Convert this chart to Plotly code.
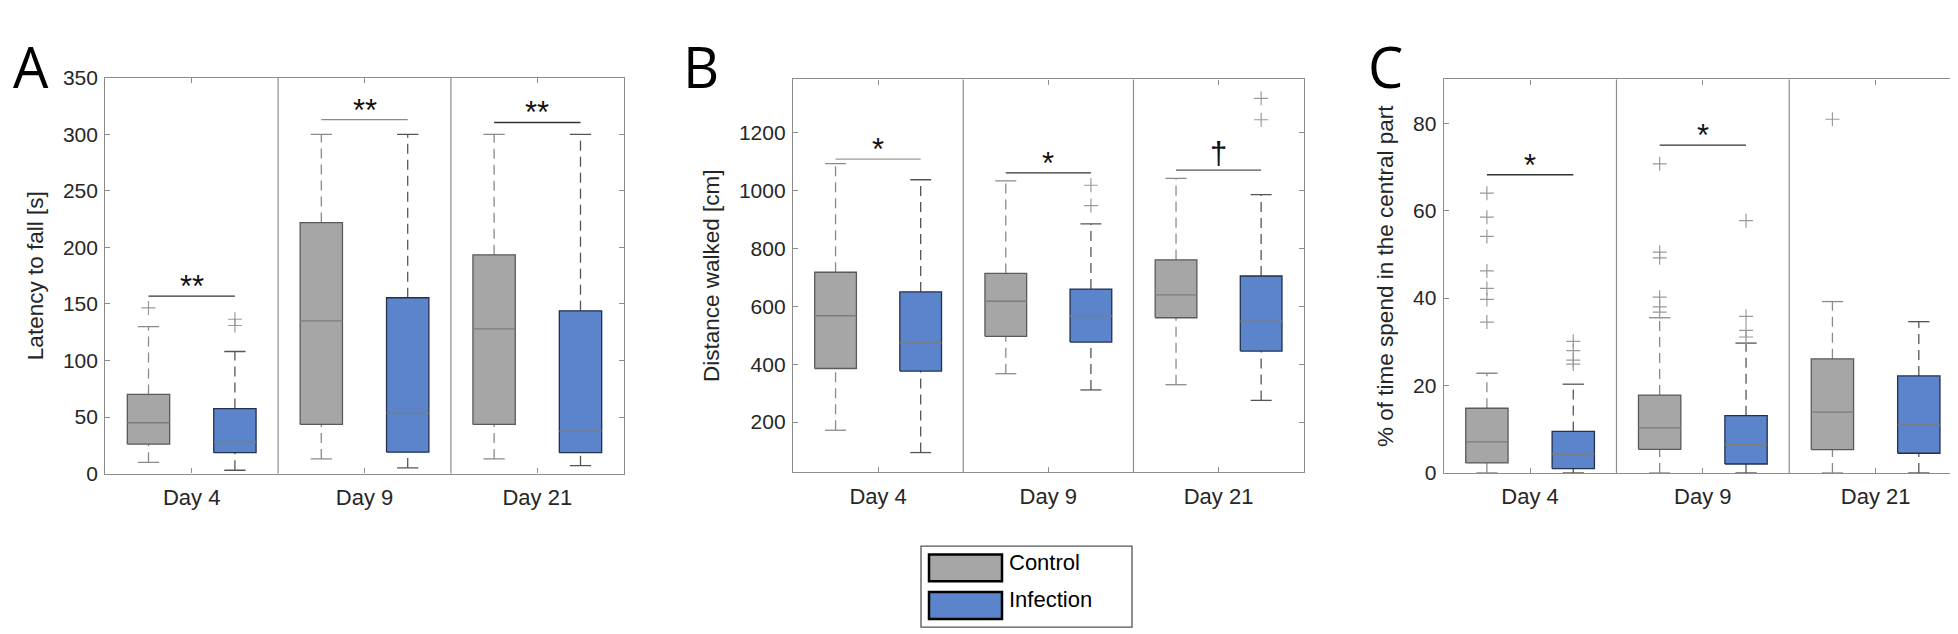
import plotly.graph_objects as go

# ---------------- data ----------------
days = ["Day 4", "Day 9", "Day 21"]
groups = ["Control", "Infection"]

# Panel A: Latency to fall [s]
lat_ctrl_low = [10, 13, 13]
lat_ctrl_q1 = [26, 43.5, 43.5]
lat_ctrl_med = [45, 135, 128]
lat_ctrl_q3 = [70, 222, 193.5]
lat_ctrl_high = [130, 300, 300]
lat_ctrl_out = [[146.5], [], []]
lat_inf_low = [3, 5, 7]
lat_inf_q1 = [18.5, 19, 18.5]
lat_inf_med = [28, 53.5, 37.5]
lat_inf_q3 = [57.5, 155.5, 144]
lat_inf_high = [108, 300, 300]
lat_inf_out = [[131, 136.5], [], []]
lat_sig = ["**", "**", "**"]
lat_sig_y = [157, 313, 310.5]

# Panel B: Distance walked [cm]
dist_ctrl_low = [172, 367, 329]
dist_ctrl_q1 = [385, 496, 560]
dist_ctrl_med = [567, 617, 639]
dist_ctrl_q3 = [717, 713, 760]
dist_ctrl_high = [1092, 1032, 1041]
dist_ctrl_out = [[], [], []]
dist_inf_low = [95, 311, 275]
dist_inf_q1 = [376, 476, 445]
dist_inf_med = [473, 567, 548]
dist_inf_q3 = [649, 659, 704]
dist_inf_high = [1036, 884, 985]
dist_inf_out = [[], [947, 1017], [1243, 1317]]
dist_sig = ["*", "*", "†"]
dist_sig_y = [1107, 1060, 1069]

# Panel C: % of time spent in the central part
cent_ctrl_low = [0, 0, 0]
cent_ctrl_q1 = [2.3, 5.4, 5.35]
cent_ctrl_med = [7.1, 10.3, 13.9]
cent_ctrl_q3 = [14.8, 17.8, 26.1]
cent_ctrl_high = [22.8, 35.5, 39.2]
cent_ctrl_out = [[34.5, 39.7, 42.2, 46.2, 54.1, 58.5, 64.0],
                 [36.8, 38.0, 40.2, 49.2, 50.5, 70.7],
                 [80.9]]
cent_inf_low = [0, 0, 0]
cent_inf_q1 = [1.0, 2.05, 4.5]
cent_inf_med = [4.3, 6.5, 11.0]
cent_inf_q3 = [9.5, 13.1, 22.2]
cent_inf_high = [20.3, 29.7, 34.6]
cent_inf_out = [[24.9, 25.8, 28.0, 30.1], [31.1, 32.6, 35.8, 57.7], []]
cent_sig = ["*", "*", None]
cent_sig_y = [68.2, 75.0, None]

# ---------------- style ----------------
GRAY = "#a6a6a6"
BLUE = "#5b84cb"
FRAME = "#8c8c8c"
FONT = "Liberation Sans, Arial, sans-serif"

panels = [
    dict(letter="A", title="Latency to fall [s]",
         ctrl=(lat_ctrl_low, lat_ctrl_q1, lat_ctrl_med, lat_ctrl_q3, lat_ctrl_high, lat_ctrl_out),
         inf=(lat_inf_low, lat_inf_q1, lat_inf_med, lat_inf_q3, lat_inf_high, lat_inf_out),
         sig=lat_sig, sig_y=lat_sig_y, sig_col=["#333333", "#8a8a8a", "#333333"],
         yrange=[0, 350], ytick=list(range(0, 351, 50)),
         xdom=[97.3, 615.7], ydom=[60, 470.7], letter_x=3),
    dict(letter="B", title="Distance walked [cm]",
         ctrl=(dist_ctrl_low, dist_ctrl_q1, dist_ctrl_med, dist_ctrl_q3, dist_ctrl_high, dist_ctrl_out),
         inf=(dist_inf_low, dist_inf_q1, dist_inf_med, dist_inf_q3, dist_inf_high, dist_inf_out),
         sig=dist_sig, sig_y=dist_sig_y, sig_col=["#9a9a9a", "#333333", "#555555"],
         yrange=[28, 1382], ytick=list(range(200, 1201, 200)),
         xdom=[785, 1295.7], ydom=[61.7, 469], letter_x=673),
    dict(letter="C", title="% of time spend in the central part",
         ctrl=(cent_ctrl_low, cent_ctrl_q1, cent_ctrl_med, cent_ctrl_q3, cent_ctrl_high, cent_ctrl_out),
         inf=(cent_inf_low, cent_inf_q1, cent_inf_med, cent_inf_q3, cent_inf_high, cent_inf_out),
         sig=cent_sig, sig_y=cent_sig_y, sig_col=["#333333", "#333333", "#333333"],
         yrange=[0, 90], ytick=list(range(0, 81, 20)),
         xdom=[1435.7, 1954], ydom=[61.7, 470], letter_x=1358),
]

W, H = 1958, 634
BOX_W = 0.245
CAP_W = 0.123
OFFSET = 0.25

fig = go.Figure()
layout = dict(width=W, height=H, margin=dict(l=0, r=0, t=0, b=0),
              paper_bgcolor="white", plot_bgcolor="white", showlegend=False)
annotations = []
shapes = []

for k, p in enumerate(panels):
    sfx = "" if k == 0 else str(k + 1)
    xa, ya = "x" + sfx, "y" + sfx
    for g, stats in enumerate([p["ctrl"], p["inf"]]):
        low, q1, med, q3, high, outs = stats
        off = -OFFSET if g == 0 else OFFSET
        fill = GRAY if g == 0 else BLUE
        edge = "#5a5a5a" if g == 0 else "#23304f"
        wcol = "#8a8a8a" if g == 0 else "#555555"
        for i in range(len(days)):
            c = i + 1 + off
            # whiskers (dashed)
            fig.add_trace(go.Scatter(x=[c, c, None, c, c], y=[low[i], q1[i], None, q3[i], high[i]],
                                     mode="lines", line=dict(color=wcol, width=1.3, dash="10px,6px"),
                                     xaxis=xa, yaxis=ya, hoverinfo="skip"))
            # caps
            fig.add_trace(go.Scatter(x=[c - CAP_W / 2, c + CAP_W / 2, None, c - CAP_W / 2, c + CAP_W / 2],
                                     y=[low[i], low[i], None, high[i], high[i]],
                                     mode="lines", line=dict(color=wcol, width=1.3),
                                     xaxis=xa, yaxis=ya, hoverinfo="skip"))
            # box
            fig.add_trace(go.Scatter(x=[c - BOX_W / 2, c + BOX_W / 2, c + BOX_W / 2, c - BOX_W / 2, c - BOX_W / 2],
                                     y=[q1[i], q1[i], q3[i], q3[i], q1[i]],
                                     mode="lines", fill="toself", fillcolor=fill,
                                     line=dict(color=edge, width=1.3),
                                     xaxis=xa, yaxis=ya, hoverinfo="skip"))
            # median
            fig.add_trace(go.Scatter(x=[c - BOX_W / 2, c + BOX_W / 2], y=[med[i], med[i]],
                                     mode="lines", line=dict(color="#7d7d7d", width=1.3),
                                     xaxis=xa, yaxis=ya, hoverinfo="skip"))
            # outliers
            if outs[i]:
                fig.add_trace(go.Scatter(x=[c] * len(outs[i]), y=outs[i], mode="markers",
                                         marker=dict(symbol="cross-thin", size=10,
                                                     line=dict(color="#9a9a9a", width=1.2)),
                                         xaxis=xa, yaxis=ya, hoverinfo="skip"))
    # significance bars
    for i in range(len(days)):
        if p["sig"][i] is None:
            continue
        yv = p["sig_y"][i]
        fig.add_trace(go.Scatter(x=[i + 1 - OFFSET, i + 1 + OFFSET], y=[yv, yv], mode="lines",
                                 line=dict(color=p["sig_col"][i], width=1.3),
                                 xaxis=xa, yaxis=ya, hoverinfo="skip"))
        annotations.append(dict(x=i + 1, y=yv, xref=xa, yref=ya, text=p["sig"][i], showarrow=False,
                                yanchor="bottom", yshift=-10 if p["sig"][i] != "†" else -3,
                                font=dict(family=FONT, size=31, color="#111111")))
    # section dividers
    for b in [1.5, 2.5]:
        shapes.append(dict(type="line", xref=xa, yref=ya + " domain", x0=b, x1=b, y0=0, y1=1,
                           line=dict(color=FRAME, width=1.2)))
    x0, x1 = p["xdom"]
    y0, y1 = p["ydom"]
    layout["xaxis" + sfx] = dict(domain=[x0 / W, x1 / W], range=[0.5, 3.5], anchor=ya,
                                 tickvals=[1, 2, 3], ticktext=days, ticks="inside", ticklen=5,
                                 tickcolor=FRAME, showline=True, linecolor=FRAME, linewidth=1.3,
                                 mirror="ticks", showgrid=False, zeroline=False,
                                 ticklabelstandoff=4,
                                 tickfont=dict(family=FONT, size=22, color="#262626"))
    layout["yaxis" + sfx] = dict(domain=[1 - y1 / H, 1 - y0 / H], range=p["yrange"], anchor=xa,
                                 tickvals=p["ytick"], ticks="inside", ticklen=5, tickcolor=FRAME,
                                 showline=True, linecolor=FRAME, linewidth=1.3, mirror="ticks",
                                 showgrid=False, zeroline=False, ticklabelstandoff=2,
                                 tickfont=dict(family=FONT, size=21, color="#262626"),
                                 title=dict(text=p["title"], standoff=13,
                                            font=dict(family=FONT, size=22.5, color="#262626")))
    annotations.append(dict(x=p["letter_x"] / W, y=1 - 6 / H, xref="paper", yref="paper",
                            text=p["letter"], showarrow=False, xanchor="left", yanchor="top",
                            font=dict(family="Open Sans, Liberation Sans, sans-serif", size=56,
                                      color="black")))

# legend (drawn manually with large swatches)
shapes.append(dict(type="rect", xref="paper", yref="paper", x0=913 / W, x1=1124 / W,
                   y0=1 - 630 / H, y1=1 - 546 / H, line=dict(color="#555555", width=1.3),
                   fillcolor="white"))
for g, (name, col, yc) in enumerate(zip(groups, [GRAY, BLUE], [568.5, 607.5])):
    shapes.append(dict(type="rect", xref="paper", yref="paper", x0=921 / W, x1=994 / W,
                       y0=1 - (yc + 14) / H, y1=1 - (yc - 14) / H,
                       line=dict(color="black", width=2.5), fillcolor=col))
    annotations.append(dict(x=999 / W, y=1 - (yc - 6) / H, xref="paper", yref="paper", text=name,
                            showarrow=False, xanchor="left", yanchor="middle",
                            font=dict(family=FONT, size=22, color="black")))

layout["annotations"] = annotations
layout["shapes"] = shapes
fig.update_layout(**layout)
fig.write_html("out.html")
